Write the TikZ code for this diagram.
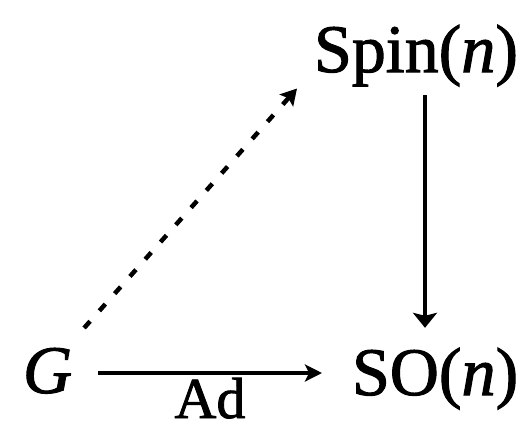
\documentclass[tikz,border=0pt]{standalone}
\usepackage{fontspec}
\setmainfont[FakeBold=1.5]{Liberation Serif}
\usetikzlibrary{arrows.meta}
\begin{document}
\begin{tikzpicture}[x=1pt,y=-1pt,
  lbl/.style={inner sep=0pt,outer sep=0pt,font=\fontsize{68}{78}\selectfont,anchor=base west},
  arr/.style={line width=4pt,-{Stealth[length=17pt,width=17pt,inset=4pt]}},
  varr/.style={line width=4.5pt,-{Stealth[length=15pt,width=24pt,inset=3pt]}},
  dotarr/.style={line width=4.5pt,dash pattern=on 9pt off 14pt,-{Stealth[length=16pt,width=18pt,inset=3pt]}}]
\useasboundingbox (0,0) rectangle (521,431);
\node[lbl] (G) at (23,393) {\textit{G}};
\node[lbl] (SO) at (352,395) {SO(\textit{n})};
\node[lbl] (Spin) at (314,72) {Spin(\textit{n})};
\coordinate (vx) at (425,0);
\coordinate (hy) at (0,373);
\draw[arr] (G.east |- hy) ++(26,0) -- ([xshift=-30pt]SO.west |- hy);
\node[inner sep=0pt,font=\fontsize{58}{68}\selectfont,anchor=base] (ad) at (210,418) {Ad};
\draw[varr, shorten <=9pt, shorten >=20pt] (Spin.south -| vx) -- (SO.north -| vx);
\draw[dotarr] ([shift={(12,-20)}]G.north east) -- ([shift={(-17,2)}]Spin.south west);
\end{tikzpicture}
\end{document}
